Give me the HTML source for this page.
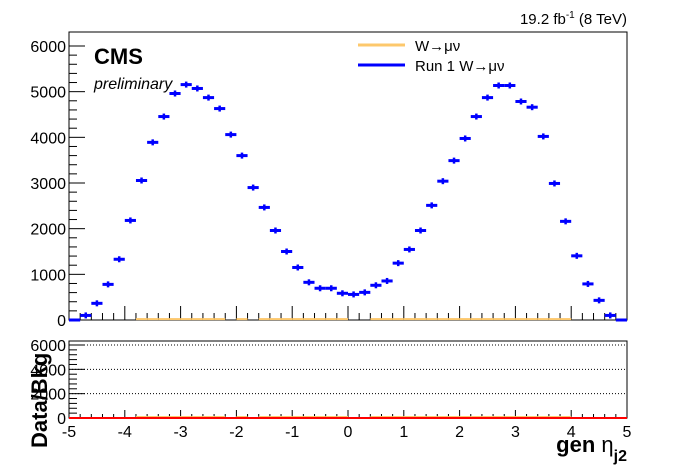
<!DOCTYPE html>
<html><head><meta charset="utf-8"><style>
body{margin:0;background:#fff;}
svg{display:block;font-family:"Liberation Sans",sans-serif;}
</style></head><body>
<svg id="c" width="696" height="472" viewBox="0 0 696 472">
<text x="627" y="24" font-size="15" text-anchor="end">19.2 fb<tspan dy="-6" font-size="10">-1</tspan><tspan dy="6"> (8 TeV)</tspan></text>
<text x="94" y="64" font-size="22" font-weight="bold">CMS</text>
<text x="94" y="89" font-size="16" font-style="italic">preliminary</text>
<g>
<line x1="358" y1="45" x2="405" y2="45" stroke="#fdc86c" stroke-width="3"/>
<text x="415" y="51" font-size="15">W→μν</text>
<line x1="358" y1="65" x2="405" y2="65" stroke="#0000ff" stroke-width="3"/>
<text x="415" y="71" font-size="15">Run 1 W→μν</text>
</g>
<text x="627" y="452" font-size="22" font-weight="bold" text-anchor="end">gen <tspan font-weight="normal">η</tspan><tspan dy="9" font-size="16">j2</tspan></text>
<text transform="translate(47,448) rotate(-90)" font-size="22" font-weight="bold">Data/Bkg</text>
<g id="g"></g>
</svg>
<script>
const run1Values=[0,100,365,780,1330,2180,3055,3890,4455,4960,5155,5070,4870,4630,4060,3600,2900,2465,1960,1500,1150,825,695,695,585,560,605,760,855,1245,1545,1960,2510,3040,3490,3975,4455,4870,5135,5135,4785,4660,4020,2990,2160,1405,790,430,100,0];
const wmunuValues=[0,0,0,0,0,0,20,20,20,20,20,20,20,20,0,20,0,20,20,20,20,20,20,20,20,0,0,20,20,20,20,20,20,20,20,20,20,20,20,20,20,20,20,20,20,0,0,0,0,0];
const yTicks=[0,1000,2000,3000,4000,5000,6000];
const ratioTicks=[0,2000,4000,6000];
const xTicks=[-5,-4,-3,-2,-1,0,1,2,3,4,5];
const NS='http://www.w3.org/2000/svg';
const g=document.getElementById('g');
const X0=69,X1=627,T0=32,T1=320,R0=341,R1=418;
const xs=v=>X0+(v+5)/10*(X1-X0);
const ys=v=>T1-v/6000*(T1-46);
const yr=v=>R1-v/6000*(R1-345);
function mk(t,a,name){const e=document.createElementNS(NS,t);for(const k in a)e.setAttribute(k,a[k]);


g.appendChild(e);return e;}
mk('rect',{x:X0,y:T0,width:X1-X0,height:T1-T0,fill:'none',stroke:'#000','stroke-width':1},'main-frame');
mk('rect',{x:X0,y:R0,width:X1-X0,height:R1-R0,fill:'none',stroke:'#000','stroke-width':1},'ratio-frame');
for(let v=0;v<=6000;v+=200){const y=ys(v);const maj=v%1000===0;mk('line',{x1:X0,y1:y,x2:X0+(maj?16:8),y2:y,stroke:'#000'},'y-tick');}
yTicks.forEach(v=>{const t=mk('text',{x:X0-3,y:ys(v)+6,'font-size':16,'text-anchor':'end'},'y-tick-label');t.textContent=v;});
for(let v=0;v<=6000;v+=400){const y=yr(v);if(y<R0)continue;const maj=v%2000===0;mk('line',{x1:X0,y1:y,x2:X0+(maj?16:8),y2:y,stroke:'#000'},'ratio-y-tick');}
ratioTicks.forEach(v=>{const t=mk('text',{x:X0-3,y:yr(v)+6,'font-size':16,'text-anchor':'end'},'ratio-y-tick-label');t.textContent=v;
if(v>0)mk('line',{x1:X0,y1:yr(v),x2:X1,y2:yr(v),stroke:'#000','stroke-dasharray':'1 2'},'ratio-gridline');});
for(let i=0;i<=50;i++){const v=-5+i*0.2;const x=xs(v);const maj=i%5===0;
mk('line',{x1:x,y1:T1,x2:x,y2:T1-(maj?14:7),stroke:'#000'},'x-tick');
mk('line',{x1:x,y1:R1,x2:x,y2:R1-(maj?8:4),stroke:'#000'},'ratio-x-tick');}
xTicks.forEach(v=>{const t=mk('text',{x:xs(v),y:437,'font-size':16,'text-anchor':'middle'},'x-tick-label');t.textContent=v;});
wmunuValues.forEach((v,i)=>{if(v<=0)return;const a=-5+i*0.2;
mk('line',{x1:xs(a),y1:ys(v),x2:xs(a+0.2),y2:ys(v),stroke:'#fdc86c','stroke-width':2},'wmunu-bin');
mk('line',{x1:xs(a),y1:yr(0)-1,x2:xs(a+0.2),y2:yr(0)-1,stroke:'#fdc86c','stroke-width':2},'ratio-wmunu-bin');});
mk('line',{x1:X0,y1:yr(0),x2:X1,y2:yr(0),stroke:'#ff0000','stroke-width':2},'ratio-unity-line');
run1Values.forEach((v,i)=>{const a=-5+i*0.2;const c=xs(a+0.1);const y=ys(v);
mk('line',{x1:xs(a),y1:y,x2:xs(a+0.2),y2:y,stroke:'#0000ff','stroke-width':3},'run1-point');
if(v>0)mk('line',{x1:c,y1:y-3,x2:c,y2:y+3,stroke:'#0000ff','stroke-width':2.5},'run1-error-bar');});
</script>
</body></html>
